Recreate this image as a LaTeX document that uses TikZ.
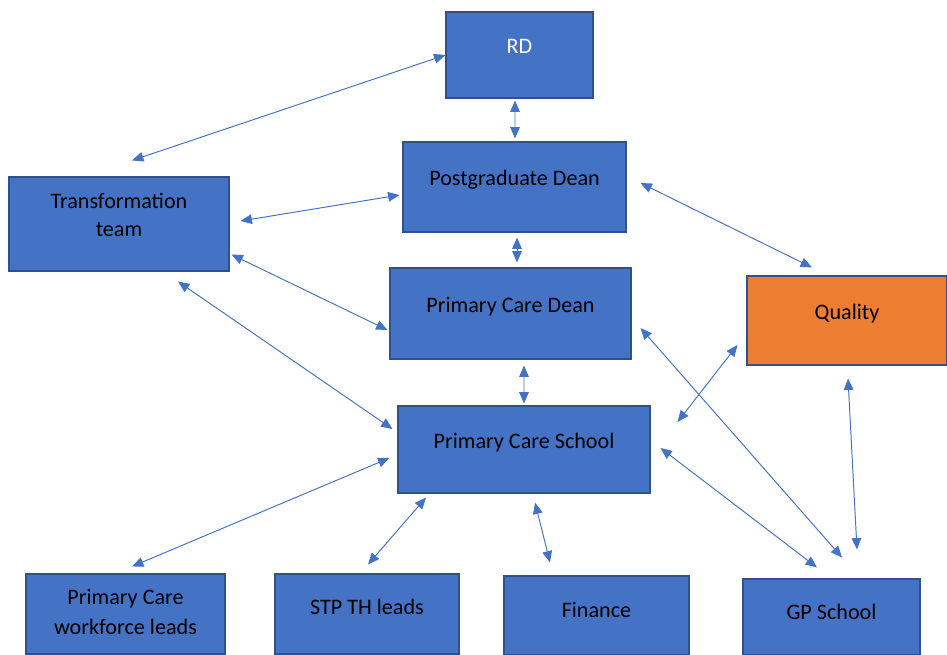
\documentclass[tikz,border=0pt]{standalone}
\usepackage{fontspec}
\setmainfont{Carlito}
\usepackage{tikz}
\usetikzlibrary{arrows.meta}
\definecolor{boxblue}{HTML}{4472C4}
\definecolor{boxedge}{HTML}{2F528F}
\definecolor{boxorange}{HTML}{ED7D31}
\tikzstyle{box}=[rectangle,draw=boxedge,fill=boxblue,line width=0.6pt,align=center,font=\fontsize{12.6}{16}\selectfont,text depth=10pt,inner sep=0pt]
\tikzstyle{qbox}=[box,fill=boxorange]
\tikzstyle{link} = [draw=boxblue, line width=0.55pt, {Triangle[length=6.5pt,width=5.5pt]}-{Triangle[length=6.5pt,width=5.5pt]}]

\begin{document}
\begin{tikzpicture}[x=0.02cm,y=-0.02cm]
  \useasboundingbox (0,0) rectangle (947,655);
  \clip (0,0) rectangle (947,655);

  \node[box,text=white,minimum width=147*0.02cm,minimum height=86*0.02cm] (rd) at (519.5,55) {RD};
  \node[box,minimum width=223*0.02cm,minimum height=90*0.02cm] (pgdean) at (514.5,187) {Postgraduate Dean};
  \node[box,minimum width=220*0.02cm,minimum height=94*0.02cm] (trans) at (119,224) {Transformation\\team};
  \node[box,minimum width=241*0.02cm,minimum height=91*0.02cm] (pcdean) at (510.5,313.5) {Primary Care Dean};
  \node[qbox,minimum width=200*0.02cm,minimum height=89*0.02cm] (quality) at (847,320.5) {Quality};
  \node[box,minimum width=252*0.02cm,minimum height=87*0.02cm] (pcschool) at (524,449.5) {Primary Care School};
  % bottom row
  \node[box,font=\fontsize{12.6}{17}\selectfont,text depth=2pt,minimum width=199*0.02cm,minimum height=80*0.02cm] (wfleads) at (125.5,614) {Primary Care\\workforce leads};
  \node[box,text depth=8pt,minimum width=184*0.02cm,minimum height=80*0.02cm] (stp) at (367,614) {STP TH leads};
  \node[box,text depth=6pt,minimum width=185*0.02cm,minimum height=79*0.02cm] (finance) at (596.5,615.5) {Finance};
  \node[box,text depth=6pt,minimum width=177*0.02cm,minimum height=76*0.02cm] (gpschool) at (831.5,617) {GP School};

  % arrows
  \draw[link] (rd.west) -- ([shift={(13,-16)}]trans.north);
  \draw[link] ([shift={(-4.5,2)}]rd.south) -- ([shift={(0.5,-3)}]pgdean.north);
  \draw[link] ([shift={(-3,8)}]pgdean.west) -- ([shift={(11,-3)}]trans.east);
  \draw[link] ([shift={(2.5,5)}]pgdean.south) -- ([shift={(6.5,-5)}]pcdean.north);
  \draw[link] ([shift={(14,-4)}]pgdean.east) -- ([shift={(-35,-8)}]quality.north);
  \draw[link] ([shift={(2,-17)}]trans.south east) -- ([shift={(-2,16.5)}]pcdean.west);
  \draw[link] ([shift={(59,10)}]trans.south) -- ([shift={(-5,-20.5)}]pcschool.west);
  \draw[link] ([shift={(13.5,6)}]pcdean.south) -- ([shift={(0,-2)}]pcschool.north);
  \draw[link] ([shift={(9,14.5)}]pcdean.east) -- ([shift={(10.5,-21)}]gpschool.north);
  \draw[link] ([shift={(-9,24.5)}]quality.west) -- ([shift={(27,-27.5)}]pcschool.east);
  \draw[link] ([shift={(10,-1.5)}]pcschool.east) -- ([shift={(-14.5,-11)}]gpschool.north);
  \draw[link] ([shift={(1,13)}]quality.south) -- ([shift={(25.5,-29)}]gpschool.north);
  \draw[link] ([shift={(-8,8.5)}]pcschool.west) -- ([shift={(6.5,-7)}]wfleads.north);
  \draw[link] ([shift={(-98,4)}]pcschool.south) -- ([shift={(1,-9)}]stp.north);
  \draw[link] ([shift={(11,9)}]pcschool.south) -- ([shift={(-46.5,-13)}]finance.north);
\end{tikzpicture}
\end{document}
